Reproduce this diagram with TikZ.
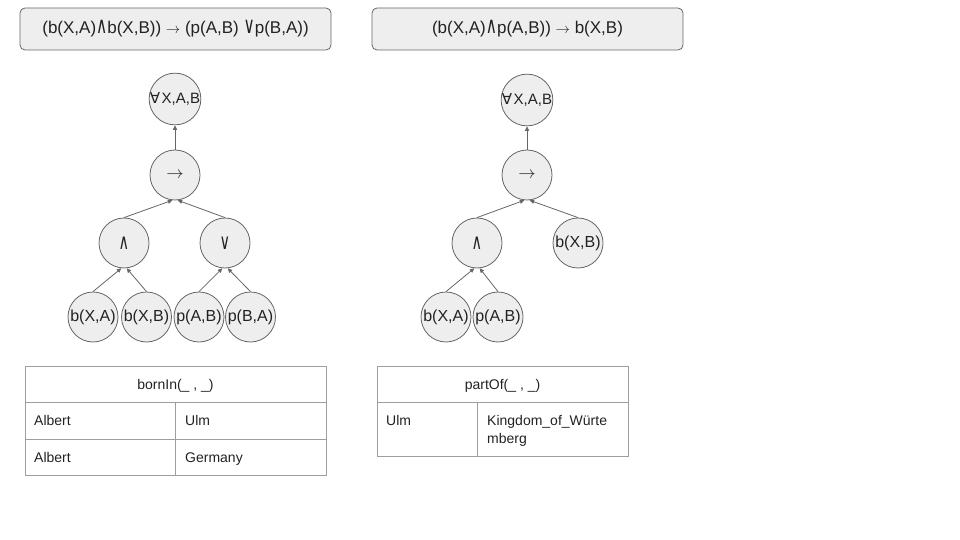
\documentclass[tikz,border=0pt]{standalone}
\usepackage{fontspec}
\usepackage{graphicx}
\setmainfont{Liberation Sans}
\newfontfamily\symf{DejaVu Sans}
\usetikzlibrary{arrows.meta}
\definecolor{boxfill}{HTML}{EEEEEE}
\definecolor{boxline}{HTML}{666666}
\definecolor{edgec}{HTML}{666666}
\definecolor{tabline}{HTML}{9E9E9E}
\definecolor{txt}{HTML}{222222}
\newcommand{\myand}{\scalebox{0.9}[1.35]{\symf∧}}
\newcommand{\myor}{\scalebox{0.9}[1.35]{\symf∨}}
\newcommand{\myto}{{\fontsize{15}{15}\selectfont$\rightarrow$}}
\newcommand{\myall}{{\symf∀}\kern1.5pt}
\begin{document}
\begin{tikzpicture}[x=1pt,y=-1pt,
  formula/.style={draw=boxline, fill=boxfill, rounded corners=5pt, minimum width=311pt, minimum height=42pt, font=\fontsize{17}{20}\selectfont, text=txt, inner sep=0pt, line width=0.8pt},
  opnode/.style={circle, draw=boxline, fill=boxfill, minimum size=50pt, inner sep=0pt, font=\fontsize{16}{18}\selectfont, text=txt, line width=0.8pt},
  conn/.style={draw=edgec, line width=0.8pt, -{Triangle[length=4.5pt,width=4pt]}},
  tab/.style={draw=tabline, line width=0.8pt},
  cell/.style={font=\fontsize{14}{18}\selectfont, text=txt, inner sep=0pt}
]
\useasboundingbox (0,0) rectangle (960,540);
% formulas
\node[formula] (f1) at (175.5,29) {(b(X,A)\myand b(X,B)) \myto{} (p(A,B) \myor p(B,A))};
\node[formula] (f2) at (527.5,29) {(b(X,A)\myand p(A,B)) \myto{} b(X,B)};
% left tree
\node[opnode, font=\fontsize{15}{18}\selectfont] (all1) at (175,99) {\myall X,A,B};
\node[opnode] (imp1) at (175,175) {\fontsize{19}{19}\selectfont$\rightarrow$};
\node[opnode] (and1) at (124,243) {\myand};
\node[opnode] (or1) at (225,243) {\myor};
\node[opnode] (l1) at (93,317) {b(X,A)};
\node[opnode] (l2) at (146.5,317) {b(X,B)};
\node[opnode] (l3) at (199,317) {p(A,B)};
\node[opnode] (l4) at (250.5,317) {p(B,A)};
\draw[conn] (imp1) -- (all1);
\draw[conn] (and1.north) -- (imp1.264);
\draw[conn] (or1.north) -- (imp1.276);
\draw[conn] (l1.north) -- (and1.264);
\draw[conn] (l2.north) -- (and1.276);
\draw[conn] (l3.north) -- (or1.264);
\draw[conn] (l4.north) -- (or1.276);
% right tree
\node[opnode, font=\fontsize{15}{18}\selectfont] (all2) at (527,100) {\myall X,A,B};
\node[opnode] (imp2) at (527,175) {\fontsize{19}{19}\selectfont$\rightarrow$};
\node[opnode] (and2) at (477,243) {\myand};
\node[opnode] (r3) at (578,243) {b(X,B)};
\node[opnode] (r1) at (446,317) {b(X,A)};
\node[opnode] (r2) at (498,317) {p(A,B)};
\draw[conn] (imp2) -- (all2);
\draw[conn] (and2.north) -- (imp2.264);
\draw[conn] (r3.north) -- (imp2.276);
\draw[conn] (r1.north) -- (and2.264);
\draw[conn] (r2.north) -- (and2.276);
% left table
\draw[tab] (25,366) rectangle (326,475);
\draw[tab] (25,402) -- (326,402);
\draw[tab] (25,439) -- (326,439);
\draw[tab] (175,402) -- (175,475);
\node[cell, anchor=base] (th1) at (175.5,389) {bornIn(\_ , \_)};
\node[cell, anchor=base west] (c11) at (34,425) {Albert};
\node[cell, anchor=base west] (c12) at (185,425) {Ulm};
\node[cell, anchor=base west] (c21) at (34,462) {Albert};
\node[cell, anchor=base west] (c22) at (185,462) {Germany};
% right table
\draw[tab] (377,366) rectangle (628,456);
\draw[tab] (377,402) -- (628,402);
\draw[tab] (477,402) -- (477,456);
\node[cell, anchor=base] (th2) at (502.5,389) {partOf(\_ , \_)};
\node[cell, anchor=base west] (d11) at (386,425) {Ulm};
\node[cell, anchor=base west] (d12) at (487,425) {Kingdom\_of\_Würte};
\node[cell, anchor=base west] (d13) at (487,443) {mberg};
\end{tikzpicture}
\end{document}
